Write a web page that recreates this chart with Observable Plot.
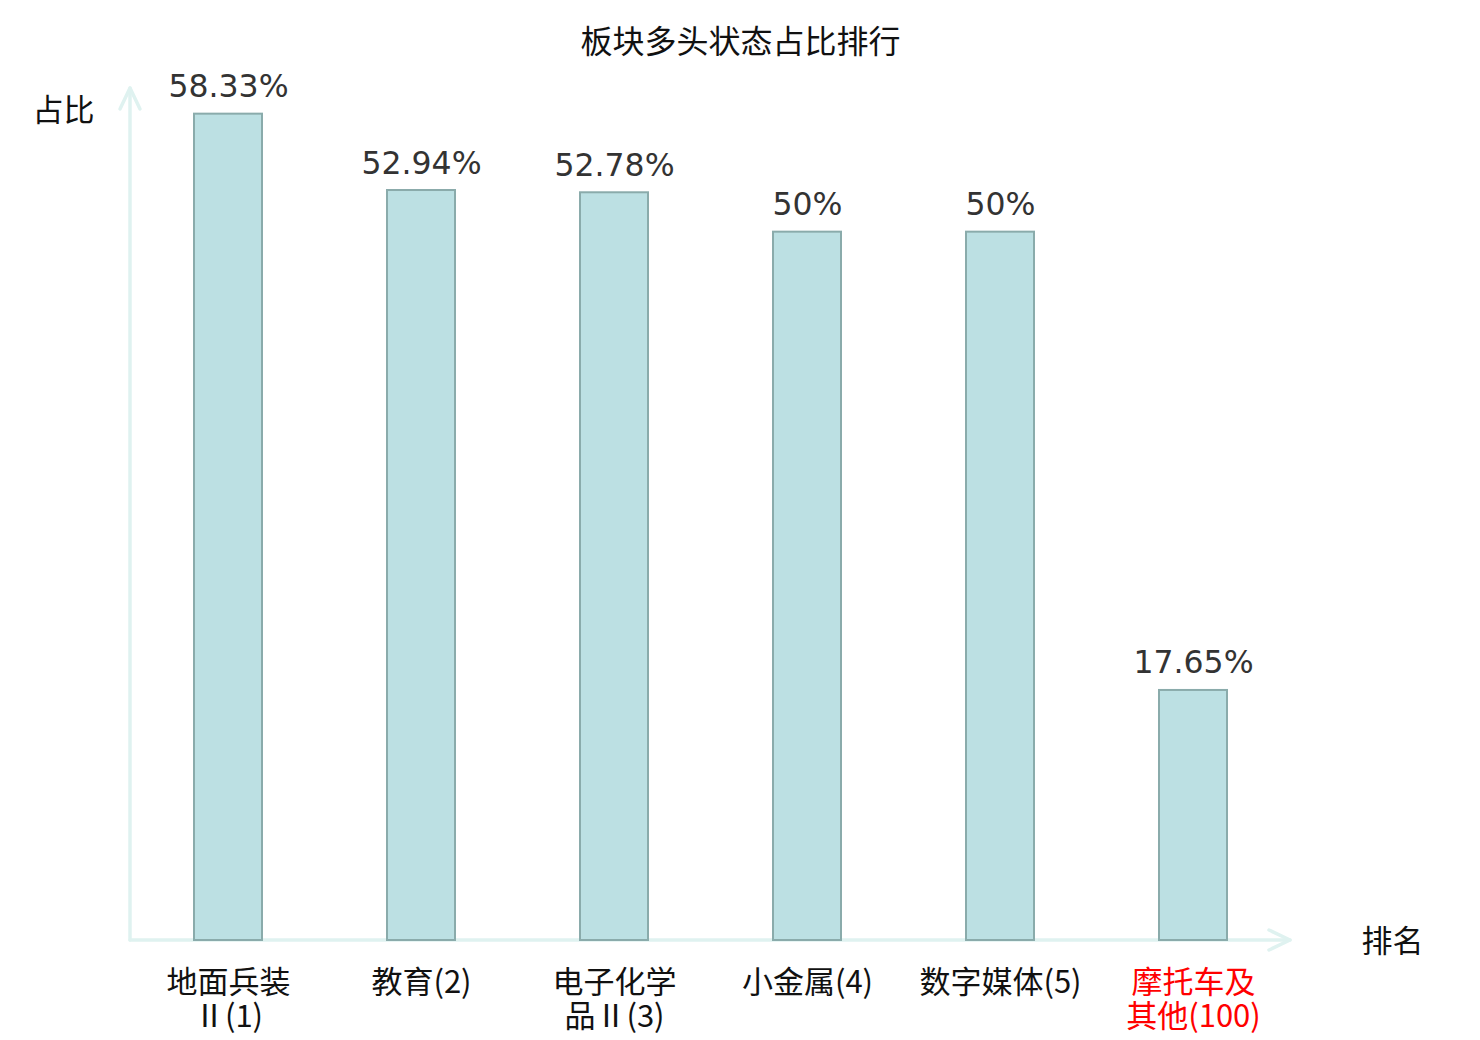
<!DOCTYPE html>
<html>
<head>
<meta charset="utf-8">
<script src="https://cdn.jsdelivr.net/npm/d3@7"></script>
<script src="https://cdn.jsdelivr.net/npm/@observablehq/plot@0.6"></script>
<style>
  html, body { margin: 0; padding: 0; background: #fff; }
  #chart svg { display: block; }
</style>
</head>
<body>
<div id="chart"></div>
<script>
const categories = ["地面兵装\nⅡ(1)", "教育(2)", "电子化学\n品Ⅱ(3)", "小金属(4)", "数字媒体(5)", "摩托车及\n其他(100)"];
const values = [58.33, 52.94, 52.78, 50, 50, 17.65];
const valueLabels = ["58.33%", "52.94%", "52.78%", "50%", "50%", "17.65%"];
const highlighted = ["摩托车及\n其他(100)"];
const titleText = "板块多头状态占比排行";
const yLabel = "占比";
const xLabel = "排名";

const data = categories.map((c, i) => ({cat: c, value: values[i], label: valueLabels[i]}));

const axisColor = "#dff2f0";
const cjk = "'Noto Sans CJK SC', 'DejaVu Sans', sans-serif";

function axesArrows(index, scales, values, dim) {
  const g = d3.create("svg:g")
    .attr("fill", "none")
    .attr("stroke", axisColor)
    .attr("stroke-width", 3.5)
    .attr("stroke-linecap", "round")
    .attr("stroke-linejoin", "round");
  const x0 = dim.marginLeft, y0 = dim.height - dim.marginBottom;
  const yTop = dim.marginTop - 2, xRight = dim.width - dim.marginRight;
  g.append("path").attr("d", `M${x0},${y0}V${yTop}`);
  g.append("path").attr("d", `M${x0 - 10},${yTop + 21}L${x0},${yTop}L${x0 + 10},${yTop + 21}`);
  g.append("path").attr("d", `M${x0},${y0}H${xRight}`);
  g.append("path").attr("d", `M${xRight - 21},${y0 - 10}L${xRight},${y0}L${xRight - 21},${y0 + 10}`);
  return g.node();
}

const chart = Plot.plot({
  width: 1480,
  height: 1040,
  marginLeft: 130,
  marginRight: 190,
  marginTop: 90,
  marginBottom: 100,
  style: {fontFamily: cjk, background: "#fff"},
  x: {domain: categories, paddingInner: 0.65, paddingOuter: 0.325, axis: null},
  y: {domain: [0, 60], axis: null},
  marks: [
    axesArrows,
    Plot.barY(data, {x: "cat", y: "value", fill: "#bce0e3", stroke: "#8aabab", strokeWidth: 2}),
    Plot.text(data, {x: "cat", y: "value", text: "label", lineAnchor: "bottom", dy: -17,
      fontSize: 31.5, fill: "#333", fontFamily: "'DejaVu Sans', sans-serif"}),
    Plot.axisX({domain: categories, tickSize: 0, tickPadding: 28, fontSize: 31, lineHeight: 1.1,
      fill: d => highlighted.includes(d) ? "#ff0000" : "#111", label: null, fontFamily: cjk}),
    Plot.text([titleText], {frameAnchor: "top", dx: 30, dy: -48, fontSize: 32, fill: "#111", lineAnchor: "middle"}),
    Plot.text([yLabel], {frameAnchor: "top-left", dx: -67, dy: 21, fontSize: 31, fill: "#111", textAnchor: "middle", lineAnchor: "middle"}),
    Plot.text([xLabel], {frameAnchor: "bottom-right", dx: 102, dy: 2, fontSize: 31, fill: "#111", textAnchor: "middle", lineAnchor: "middle"})
  ]
});
document.getElementById("chart").appendChild(chart);
</script>
</body>
</html>
